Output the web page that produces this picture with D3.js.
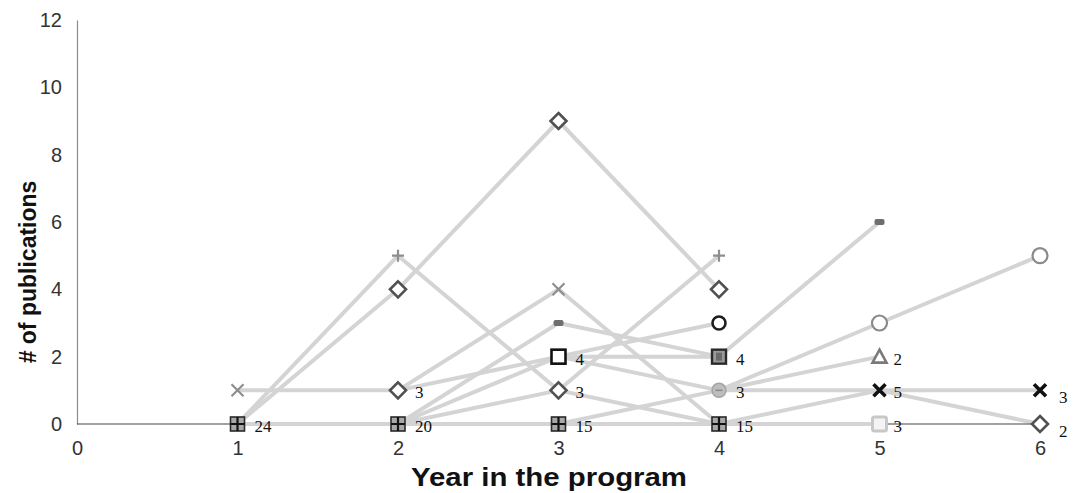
<!DOCTYPE html>
<html>
<head>
<meta charset="utf-8">
<script src="https://cdn.jsdelivr.net/npm/d3@7/dist/d3.min.js"></script>
<style>
  html, body { margin: 0; padding: 0; background: #fff; }
  svg { display: block; }
</style>
</head>
<body>
<svg id="chart" width="1081" height="493"></svg>
<script>
// Axis ticks
const yearTicks = [0, 1, 2, 3, 4, 5, 6];
const countTicks = [0, 2, 4, 6, 8, 10, 12];

// Markers: [year, publications, marker kind, number of students (label)]
const markerPoints = [
  [1, 1, "cross", null],
  [1, 0, "grid", 24],
  [2, 5, "plus", null],
  [2, 4, "diamond", null],
  [2, 1, "diamond", 3],
  [2, 0, "grid", 20],
  [3, 9, "diamond", null],
  [3, 4, "cross", null],
  [3, 3, "bar", null],
  [3, 2, "square", 4],
  [3, 1, "diamond", 3],
  [3, 0, "grid", 15],
  [4, 5, "plus", null],
  [4, 4, "diamond", null],
  [4, 3, "ring", null],
  [4, 2, "hatched", 4],
  [4, 1, "disc", 3],
  [4, 0, "grid", 15],
  [5, 6, "bar", null],
  [5, 3, "circle", null],
  [5, 2, "triangle", 2],
  [5, 1, "bigX", 5],
  [5, 0, "pale", 3],
  [6, 5, "circle", null],
  [6, 1, "bigX", 3],
  [6, 0, "diamond", 2]
];

// Student trajectories between consecutive years: [year, pubs, next year, pubs]
const trackLinks = [
  [1, 0, 2, 5], [1, 0, 2, 4], [1, 1, 2, 1], [1, 0, 2, 0],
  [2, 4, 3, 9], [2, 5, 3, 1], [2, 1, 3, 4], [2, 1, 3, 2],
  [2, 0, 3, 3], [2, 0, 3, 2], [2, 0, 3, 1], [2, 0, 3, 0],
  [3, 9, 4, 4], [3, 1, 4, 5], [3, 4, 4, 0], [3, 3, 4, 2],
  [3, 2, 4, 3], [3, 2, 4, 2], [3, 2, 4, 1], [3, 1, 4, 0],
  [3, 0, 4, 1], [3, 0, 4, 0],
  [4, 2, 5, 6], [4, 1, 5, 3], [4, 1, 5, 2], [4, 1, 5, 1],
  [4, 0, 5, 1], [4, 0, 5, 0],
  [5, 3, 6, 5], [5, 1, 6, 1], [5, 1, 6, 0]
];
// Thin baseline connectors
const baseLinks = [[0, 0, 1, 0], [5, 0, 6, 0]];

const svg = d3.select("#chart");
const x = d3.scaleLinear().domain([0, 6]).range([77, 1040]);
const y = d3.scaleLinear().domain([0, 12]).range([424, 20]);

// Y axis
const yAxis = svg.append("g")
  .attr("transform", `translate(${x(0)},0)`)
  .call(d3.axisLeft(y).tickValues(countTicks).tickSize(0).tickSizeOuter(0).tickPadding(15));
yAxis.select(".domain").attr("stroke", "#8c8c8c").attr("stroke-width", 1.2);
yAxis.selectAll("text")
  .attr("font-family", "Liberation Sans, Arial, sans-serif")
  .attr("font-size", 20).attr("fill", "#333");

// X axis (labels only)
const xAxis = svg.append("g")
  .attr("transform", `translate(0,${y(0)})`)
  .call(d3.axisBottom(x).tickValues(yearTicks).tickFormat(d3.format("d")).tickSize(0).tickPadding(17));
xAxis.select(".domain").remove();
xAxis.selectAll("text")
  .attr("font-family", "Liberation Sans, Arial, sans-serif")
  .attr("font-size", 20).attr("fill", "#333");

// Axis titles
svg.append("text")
  .attr("transform", `translate(36,${(y(0) + y(12)) / 2 + 50}) rotate(-90)`)
  .attr("text-anchor", "middle")
  .attr("font-family", "Liberation Sans, Arial, sans-serif")
  .attr("font-weight", "bold").attr("font-size", 23).attr("fill", "#111")
  .text("# of publications");

svg.append("text")
  .attr("x", 549).attr("y", 486)
  .attr("text-anchor", "middle")
  .attr("font-family", "Liberation Sans, Arial, sans-serif")
  .attr("font-weight", "bold").attr("font-size", 25).attr("fill", "#111")
  .attr("textLength", 276).attr("lengthAdjust", "spacingAndGlyphs")
  .text("Year in the program");

// Lines
svg.append("g").selectAll("line").data(trackLinks).join("line")
  .attr("x1", d => x(d[0])).attr("y1", d => y(d[1]))
  .attr("x2", d => x(d[2])).attr("y2", d => y(d[3]))
  .attr("stroke", "#d4d4d4").attr("stroke-width", 4);

svg.append("g").selectAll("line").data(baseLinks).join("line")
  .attr("x1", d => x(d[0])).attr("y1", d => y(d[1]))
  .attr("x2", d => x(d[2])).attr("y2", d => y(d[3]))
  .attr("stroke", "#444").attr("stroke-width", 1.2);

// Marker drawing
function drawMarker(g, kind) {
  switch (kind) {
    case "cross":
      g.append("path").attr("d", "M-6,-6L6,6M-6,6L6,-6")
        .attr("stroke", "#8e8e8e").attr("stroke-width", 2.2).attr("fill", "none");
      break;
    case "plus":
      g.append("path").attr("d", "M-6,0L6,0M0,-6L0,6")
        .attr("stroke", "#8e8e8e").attr("stroke-width", 2.2).attr("fill", "none");
      break;
    case "diamond":
      g.append("path").attr("d", "M0,-8L8,0L0,8L-8,0Z")
        .attr("stroke", "#505050").attr("stroke-width", 2.6).attr("fill", "#fff");
      break;
    case "grid":
      g.append("rect").attr("x", -7).attr("y", -7).attr("width", 14).attr("height", 14)
        .attr("fill", "#a8a8a8").attr("stroke", "#2a2a2a").attr("stroke-width", 1.6);
      g.append("path").attr("d", "M-7,0L7,0M0,-7L0,7")
        .attr("stroke", "#111").attr("stroke-width", 2.2);
      break;
    case "bar":
      g.append("rect").attr("x", -5).attr("y", -3).attr("width", 10).attr("height", 6)
        .attr("rx", 2).attr("fill", "#6e6e6e");
      break;
    case "square":
      g.append("rect").attr("x", -7).attr("y", -7).attr("width", 14).attr("height", 14)
        .attr("fill", "#fff").attr("stroke", "#111").attr("stroke-width", 2.6);
      break;
    case "ring":
      g.append("circle").attr("r", 6.5)
        .attr("fill", "#fff").attr("stroke", "#1e1e1e").attr("stroke-width", 2.6);
      break;
    case "hatched":
      g.append("rect").attr("x", -7).attr("y", -7).attr("width", 14).attr("height", 14)
        .attr("fill", "#9a9a9a").attr("stroke", "#2a2a2a").attr("stroke-width", 2.4);
      g.append("rect").attr("x", -3).attr("y", -4).attr("width", 6).attr("height", 8)
        .attr("fill", "#6a6a6a");
      break;
    case "disc":
      g.append("circle").attr("r", 7)
        .attr("fill", "#bdbdbd").attr("stroke", "#a4a4a4").attr("stroke-width", 1.5);
      g.append("path").attr("d", "M-3.5,0L3.5,0").attr("stroke", "#8a8a8a").attr("stroke-width", 1.5);
      break;
    case "circle":
      g.append("circle").attr("r", 7.5)
        .attr("fill", "#fff").attr("stroke", "#8a8a8a").attr("stroke-width", 2.2);
      break;
    case "triangle":
      g.append("path").attr("d", "M0,-7L7,6L-7,6Z")
        .attr("fill", "#fff").attr("stroke", "#7a7a7a").attr("stroke-width", 2.6);
      break;
    case "bigX":
      g.append("path").attr("d", "M-6,-6L6,6M-6,6L6,-6")
        .attr("stroke", "#111").attr("stroke-width", 3.6).attr("fill", "none");
      break;
    case "pale":
      g.append("rect").attr("x", -7).attr("y", -7).attr("width", 14).attr("height", 14)
        .attr("rx", 2).attr("fill", "#f4f4f4").attr("stroke", "#c8c8c8").attr("stroke-width", 3);
      break;
  }
}

const markers = svg.append("g").selectAll("g").data(markerPoints).join("g")
  .attr("transform", d => `translate(${x(d[0])},${y(d[1])})`);
markers.each(function (d) { drawMarker(d3.select(this), d[2]); });

// Student count labels
svg.append("g").selectAll("text").data(markerPoints.filter(d => d[3] !== null)).join("text")
  .attr("x", d => x(d[0]) + (d[0] === 6 ? 19 : d[0] === 5 ? 14 : 17))
  .attr("y", d => y(d[1]) + (d[0] === 6 ? 13 : 8))
  .attr("font-family", "Liberation Serif, Times New Roman, serif")
  .attr("font-size", 17).attr("fill", "#111")
  .text(d => d[3]);
</script>
</body>
</html>
